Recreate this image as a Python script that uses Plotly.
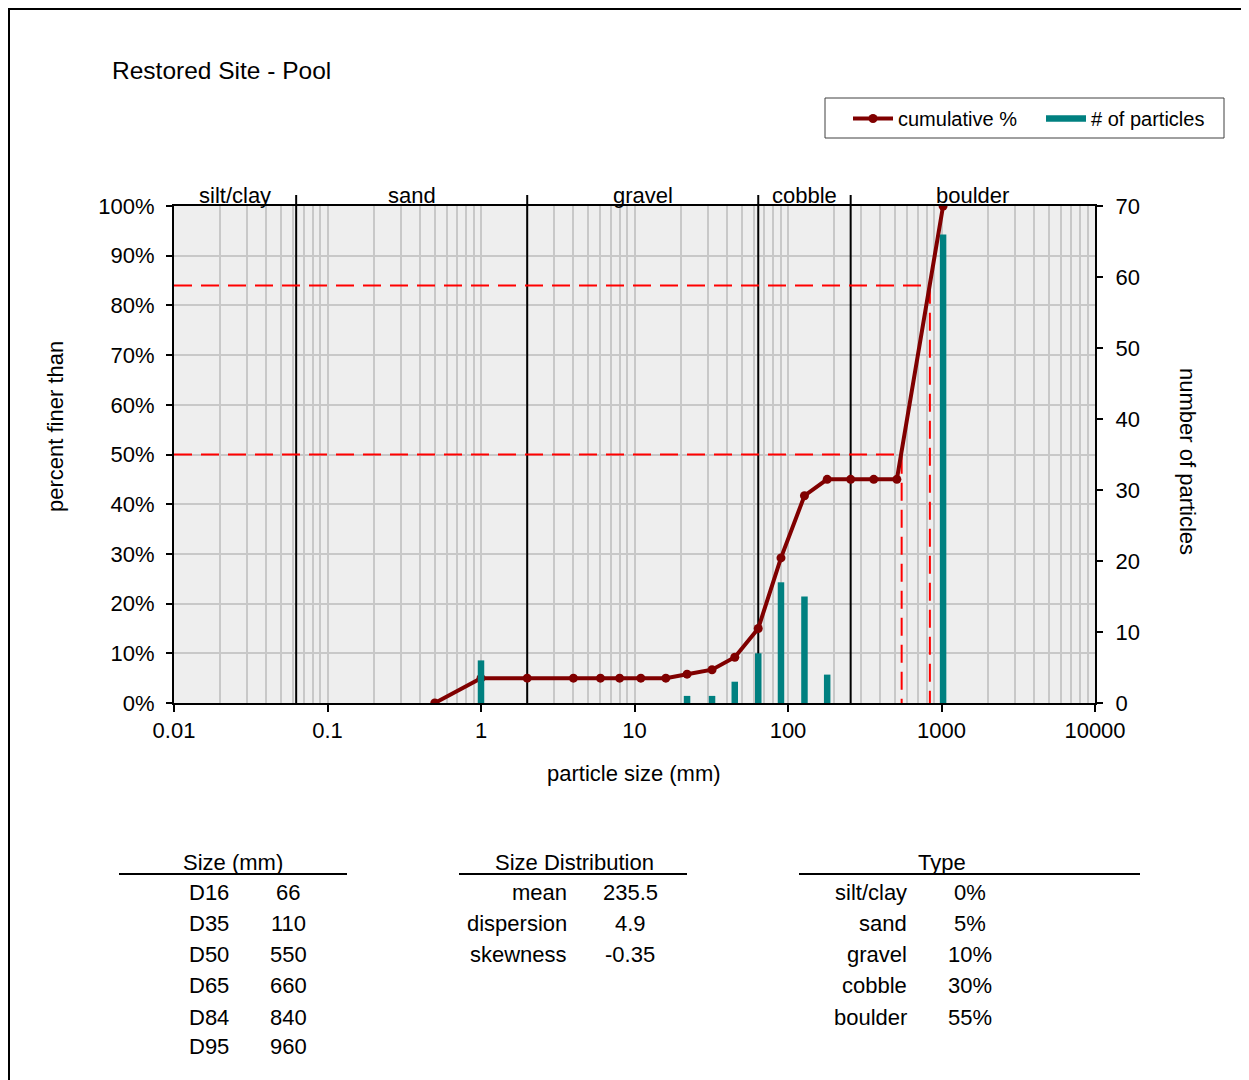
import numpy as np
import plotly.graph_objects as go

# ---------------- data ----------------
sizes_mm = [0.5, 1, 2, 4, 6, 8, 11, 16, 22, 32, 45, 64, 90, 128, 180, 256, 362, 512, 1024]
cumulative_pct = [0, 5, 5, 5, 5, 5, 5, 5, 5.8, 6.7, 9.2, 15, 29.2, 41.7, 45, 45, 45, 45, 100]
particle_counts = [0, 6, 0, 0, 0, 0, 0, 0, 1, 1, 3, 7, 17, 15, 4, 0, 0, 0, 66]

class_names = ["silt/clay", "sand", "gravel", "cobble", "boulder"]
class_bounds_mm = [0.01, 0.0625, 2, 64, 256, 10000]

x_tick_vals = [0.01, 0.1, 1, 10, 100, 1000, 10000]
x_tick_text = ["0.01", "0.1", "1", "10", "100", "1000", "10000"]

d_labels = ["D16", "D35", "D50", "D65", "D84", "D95"]
d_values = ["66", "110", "550", "660", "840", "960"]
stat_labels = ["mean", "dispersion", "skewness"]
stat_values = ["235.5", "4.9", "-0.35"]
type_labels = ["silt/clay", "sand", "gravel", "cobble", "boulder"]
type_values = ["0%", "5%", "10%", "30%", "55%"]

guide_pcts = [50, 84]
guide_sizes = [float(d_values[d_labels.index("D50")]), float(d_values[d_labels.index("D84")])]

# ---------------- layout helpers ----------------
W, H = 1249, 1080          # window
OFF = 8                    # page body margin
FW, FH = W - OFF, H - OFF
FONT = "Liberation Sans, Arial, sans-serif"
FS = 22
LOGMIN, LOGMAX = -2, 4


def px(p):
    return (p - OFF) / FW


def py(p):
    return 1 - (p - OFF) / FH


X0, X1 = px(174), px(1095)
Y0, Y1 = py(703), py(206)


def size_to_paper(v):
    return X0 + (np.log10(v) - LOGMIN) / (LOGMAX - LOGMIN) * (X1 - X0)


minor_vals = [m * 10.0 ** e for e in range(LOGMIN, LOGMAX) for m in range(2, 10)]

fig = go.Figure()

# class boundary lines (inside plot)
for b in class_bounds_mm[1:-1]:
    fig.add_trace(go.Scatter(x=[b, b], y=[0, 100], mode="lines",
                             line=dict(color="black", width=2),
                             showlegend=False, hoverinfo="skip"))

# D50 / D84 guide lines
for pct, d in zip(guide_pcts, guide_sizes):
    fig.add_trace(go.Scatter(x=[class_bounds_mm[0], d, d], y=[pct, pct, 0], mode="lines",
                             line=dict(color="#FF0000", width=2, dash="18px,9px"),
                             showlegend=False, hoverinfo="skip"))

# cumulative curve
fig.add_trace(go.Scatter(x=sizes_mm, y=cumulative_pct, mode="lines+markers",
                         name="cumulative %",
                         line=dict(color="#800000", width=4),
                         marker=dict(color="#800000", size=9),
                         legendrank=1))

# particle counts as thick bars (vertical segments)
bx, by = [], []
for s, c in zip(sizes_mm, particle_counts):
    if c > 0:
        bx += [s, s, None]
        by += [0, c, None]
fig.add_trace(go.Scatter(x=bx, y=by, mode="lines", yaxis="y2",
                         name="# of particles",
                         line=dict(color="#008080", width=6.5),
                         legendrank=2))

shapes = []
# extension ticks of class lines above plot
for b in class_bounds_mm[1:-1]:
    xp = size_to_paper(b)
    shapes.append(dict(type="line", xref="paper", yref="paper", x0=xp, x1=xp,
                       y0=Y1, y1=py(195), line=dict(color="black", width=2), layer="above"))
# outer frame
shapes.append(dict(type="rect", xref="paper", yref="paper", x0=px(9), x1=1.05,
                   y0=-0.05, y1=py(9), line=dict(color="black", width=2)))
# legend box
shapes.append(dict(type="rect", xref="paper", yref="paper", x0=px(825), x1=px(1224),
                   y0=py(138), y1=py(98), line=dict(color="#404040", width=1),
                   fillcolor="white", layer="below"))
# table header lines
for x_a, x_b in [(119, 347), (459, 687), (799, 1140)]:
    shapes.append(dict(type="line", xref="paper", yref="paper", x0=px(x_a), x1=px(x_b),
                       y0=py(874), y1=py(874), line=dict(color="black", width=2)))

annotations = []


def txt(text, x, y, anchor="center", size=FS, angle=0):
    annotations.append(dict(text=text, x=px(x), y=py(y), xref="paper", yref="paper",
                            xanchor=anchor, yanchor="middle", showarrow=False,
                            textangle=angle, font=dict(family=FONT, size=size, color="black")))


# class labels above plot
for name, lo, hi in zip(class_names, class_bounds_mm[:-1], class_bounds_mm[1:]):
    gm = np.sqrt(lo * hi)
    annotations.append(dict(text=name, x=size_to_paper(gm), y=py(195), xref="paper", yref="paper",
                            xanchor="center", yanchor="middle", showarrow=False,
                            font=dict(family=FONT, size=FS, color="black")))

txt("Restored Site - Pool", 110, 70, anchor="left", size=24.5)
txt("percent finer than", 55, 427, angle=-90)
txt("number of particles", 1187, 461, angle=90)
txt("particle size (mm)", 634, 773)

# tables
row_y = [892, 923, 954, 985, 1017, 1046]
txt("Size (mm)", 233, 862)
for i, (lab, val) in enumerate(zip(d_labels, d_values)):
    txt(lab, 209, row_y[i])
    txt(val, 288, row_y[i])

txt("Size Distribution", 574, 862)
for i, (lab, val) in enumerate(zip(stat_labels, stat_values)):
    txt(lab, 569, row_y[i], anchor="right")
    txt(val, 630, row_y[i])

txt("Type", 942, 862)
for i, (lab, val) in enumerate(zip(type_labels, type_values)):
    txt(lab, 909, row_y[i], anchor="right")
    txt(val, 970, row_y[i])

tickfont = dict(family=FONT, size=FS, color="black")

fig.update_layout(
    width=FW, height=FH,
    margin=dict(l=0, r=0, t=0, b=0, pad=0, autoexpand=False),
    paper_bgcolor="white",
    plot_bgcolor="#EEEEEE",
    font=dict(family=FONT, size=FS, color="black"),
    showlegend=True,
    legend=dict(orientation="h", x=px(848), xanchor="left", y=py(99), yanchor="top",
                borderwidth=0, bgcolor="rgba(0,0,0,0)",
                font=dict(family=FONT, size=20, color="black"),
                itemwidth=40, entrywidth=138, tracegroupgap=0),
    xaxis=dict(type="log", domain=[X0, X1], range=[LOGMIN, LOGMAX], automargin=False,
               tickmode="array", tickvals=x_tick_vals, ticktext=x_tick_text,
               showgrid=True, gridcolor="#C8C8C8", gridwidth=1.5,
               minor=dict(tickmode="array", tickvals=minor_vals, showgrid=True,
                          gridcolor="#C8C8C8", gridwidth=1.5, ticks=""),
               showline=True, linecolor="black", linewidth=2, mirror=True,
               ticks="outside", ticklen=7, tickcolor="black", tickwidth=1.5,
               ticklabelstandoff=0, tickfont=tickfont, zeroline=False),
    yaxis=dict(domain=[Y0, Y1], range=[0, 100], dtick=10, ticksuffix="%", automargin=False,
               showgrid=True, gridcolor="#C8C8C8", gridwidth=1.5,
               showline=True, linecolor="black", linewidth=2,
               ticks="outside", ticklen=6, tickcolor="black", tickwidth=1.5,
               ticklabelstandoff=7, tickfont=tickfont, zeroline=False),
    yaxis2=dict(overlaying="y", side="right", range=[0, 70], dtick=10, automargin=False,
                showgrid=False, showline=True, linecolor="black", linewidth=2,
                ticks="outside", ticklen=6, tickcolor="black", tickwidth=1.5,
                ticklabelstandoff=8, tickfont=tickfont, zeroline=False),
    shapes=shapes,
    annotations=annotations,
)

fig.write_html("out.html")
